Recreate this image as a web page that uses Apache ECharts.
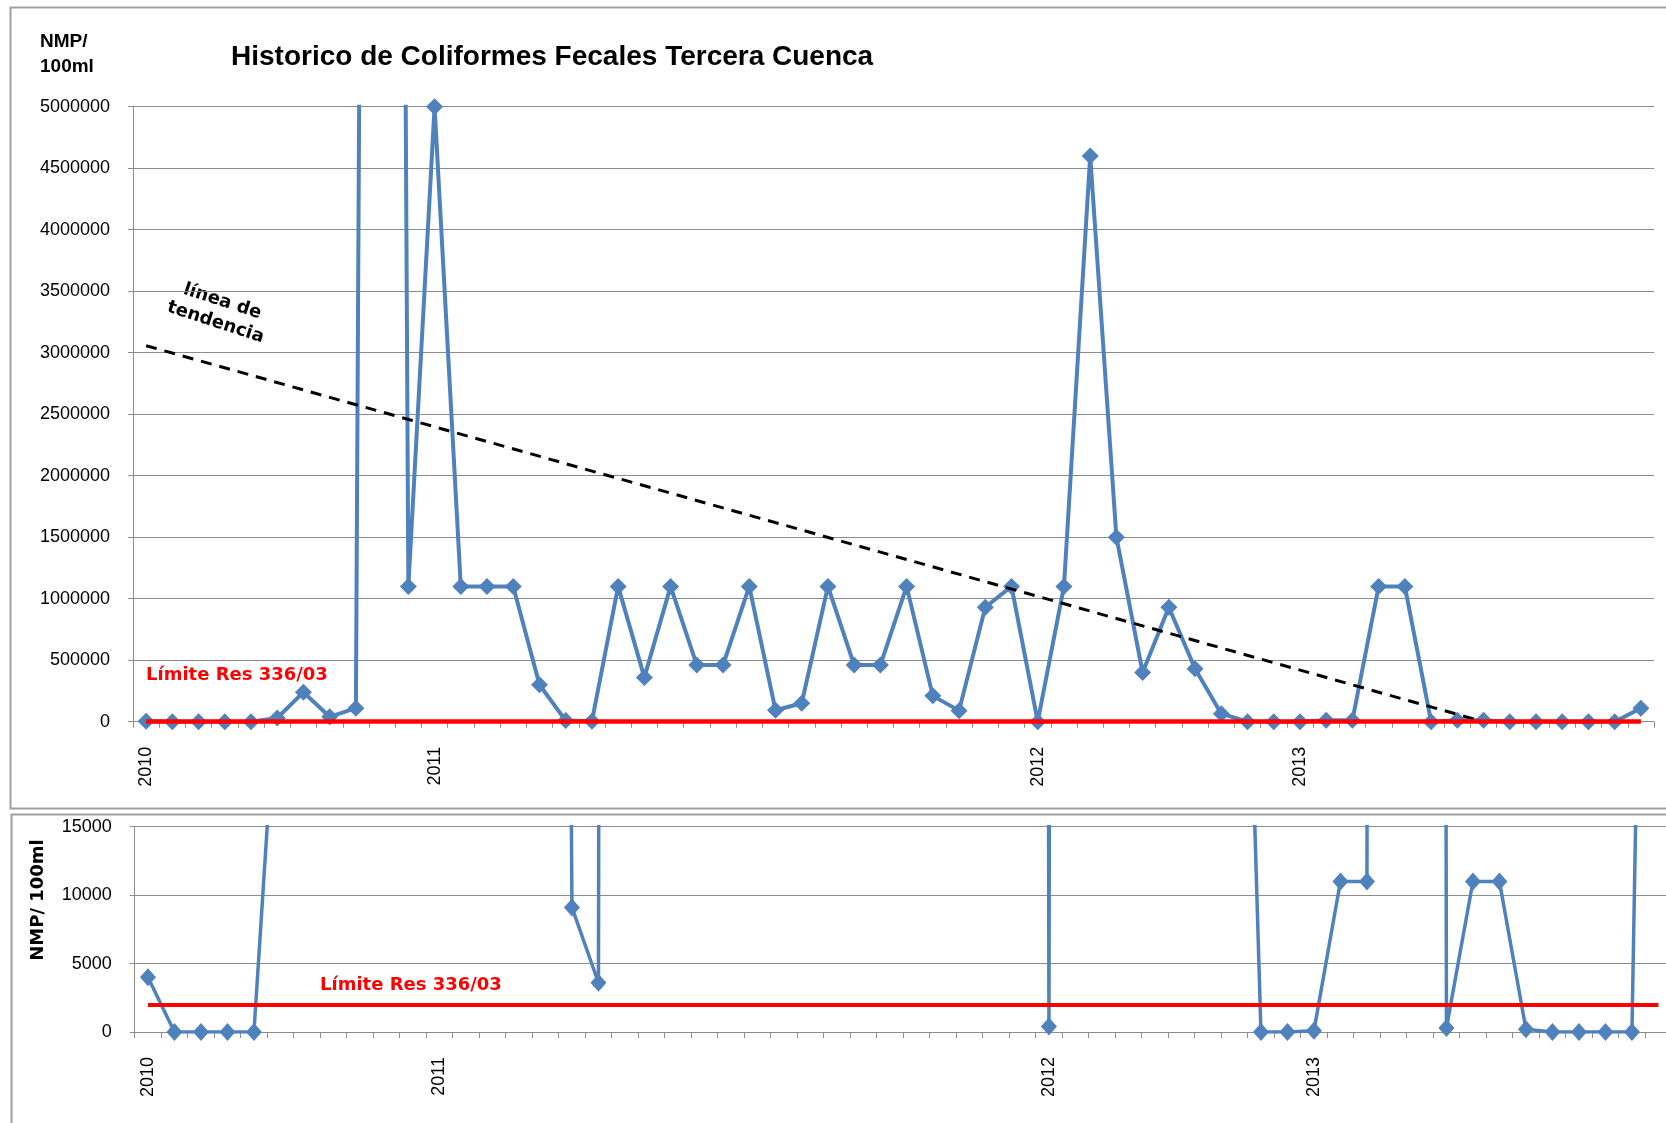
<!DOCTYPE html>
<html>
<head>
<meta charset="utf-8">
<script src="https://cdn.jsdelivr.net/npm/echarts@6/dist/echarts.min.js"></script>
<style>
  html, body { margin: 0; padding: 0; background: #fff; overflow: hidden; }
  #chart { width: 1720px; height: 1123px; }
</style>
</head>
<body>
<div id="chart"></div>
<script>
// sampling points, only the first of each year is labelled
var xLabels = [
    '2010', '', '', '', '', '', '', '', '', '',
    '', '2011', '', '', '', '', '', '', '', '',
    '', '', '', '', '', '', '', '', '', '',
    '', '', '', '', '2012', '', '', '', '', '',
    '', '', '', '', '2013', '', '', '', '', '',
    '', '', '', '', '', '', '', ''
];

// coliformes fecales, NMP/100ml
var nmp = [
    4000, 0, 0, 0, 0, 30000, 240000, 40000, 110000, 40000000,
    1100000, 5000000, 1100000, 1100000, 1100000, 300000, 9100, 3600, 1100000, 360000,
    1100000, 460000, 460000, 1100000, 93000, 150000, 1100000, 460000, 460000, 1100000,
    210000, 90000, 930000, 1100000, 400, 1100000, 4600000, 1500000, 400000, 930000,
    430000, 65000, 0, 0, 100, 11000, 11000, 1100000, 1100000, 300,
    11000, 11000, 200, 0, 0, 0, 0, 110000
];

// linea de tendencia: [index, value] endpoints
var trend = [[0, 3057000], [50.5, 0]];

var limitValue = 2000;        // Res 336/03
var topTicks = [0, 5000000, 500000];
var bottomTicks = [0, 15000, 5000];

(function () {
    var el = document.getElementById('chart');
    var chart = echarts.init(el, null, { renderer: 'canvas' });

    var blue = '#4F81BD';
    var gray = '#8c8c8c';
    var lastIdx = nmp.length - 1;

    function xAxis(gridIndex) {
        return {
            type: 'category',
            gridIndex: gridIndex,
            data: xLabels,
            boundaryGap: true,
            axisLine: { lineStyle: { color: gray, width: 1 } },
            axisTick: { show: true, interval: 0, length: 6, lineStyle: { color: gray } },
            axisLabel: {
                interval: 0, rotate: 90, margin: 25,
                color: '#000', fontSize: 18, fontFamily: 'Liberation Sans'
            },
            splitLine: { show: false }
        };
    }

    function yAxis(gridIndex, ticks) {
        return {
            type: 'value',
            gridIndex: gridIndex,
            min: ticks[0], max: ticks[1], interval: ticks[2],
            axisLine: { show: true, lineStyle: { color: gray, width: 1 } },
            axisTick: { show: true, length: 5, lineStyle: { color: gray } },
            axisLabel: {
                margin: 23, color: '#000', fontSize: 18, fontFamily: 'Liberation Sans',
                formatter: function (v) { return String(v); }
            },
            splitLine: { lineStyle: { color: gray, width: 1.2 } }
        };
    }

    function limitLine(xi, yi, w) {
        return {
            type: 'line',
            xAxisIndex: xi, yAxisIndex: yi,
            data: [],
            z: 6,
            markLine: {
                silent: true,
                symbol: ['none', 'none'],
                label: { show: false },
                lineStyle: { color: '#ff0000', width: w, type: 'solid' },
                data: [[{ coord: [0, limitValue] }, { coord: [lastIdx, limitValue] }]]
            }
        };
    }

    var redFont = 'bold 18px "DejaVu Sans"';

    chart.setOption({
        backgroundColor: '#fff',
        animation: false,
        grid: [
            { left: 133, top: 106.7, width: 1521, height: 615 },
            { left: 134.7, top: 826.7, width: 1537, height: 205.3 }
        ],
        xAxis: [xAxis(0), xAxis(1)],
        yAxis: [yAxis(0, topTicks), yAxis(1, bottomTicks)],
        graphic: [
            { type: 'rect', shape: { x: 10.5, y: 7.5, width: 1700, height: 801 },
              style: { fill: 'none', stroke: '#a0a0a0', lineWidth: 2 }, silent: true },
            { type: 'rect', shape: { x: 11.5, y: 814.5, width: 1700, height: 330 },
              style: { fill: 'none', stroke: '#a0a0a0', lineWidth: 2 }, silent: true },
            { type: 'text', x: 231, y: 57,
              style: { text: 'Historico de Coliformes Fecales Tercera Cuenca',
                       font: 'bold 28px "Liberation Sans"', fill: '#000', verticalAlign: 'middle' } },
            { type: 'text', x: 40, y: 30,
              style: { text: 'NMP/\n100ml', font: 'bold 19px "Liberation Sans"', fill: '#000',
                       lineHeight: 24.5, verticalAlign: 'top' } },
            { type: 'text', x: 219, y: 312, rotation: -18 * Math.PI / 180,
              style: { text: 'línea de\ntendencia', font: 'bold 18px "DejaVu Sans"', fill: '#000',
                       align: 'center', verticalAlign: 'middle', lineHeight: 22 } },
            { type: 'text', x: 146, y: 675,
              style: { text: 'Límite Res 336/03', font: redFont, fill: '#ff0000', verticalAlign: 'middle' } },
            { type: 'text', x: 320, y: 985,
              style: { text: 'Límite Res 336/03', font: redFont, fill: '#ff0000', verticalAlign: 'middle' } },
            { type: 'text', x: 38, y: 900, rotation: Math.PI / 2,
              style: { text: 'NMP/ 100ml', font: 'bold 18px "DejaVu Sans"', fill: '#000',
                       align: 'center', verticalAlign: 'middle' } }
        ],
        series: [
            {
                type: 'line',
                xAxisIndex: 0, yAxisIndex: 0,
                data: nmp,
                symbol: 'diamond', symbolSize: [17, 17],
                lineStyle: { color: blue, width: 4 },
                itemStyle: { color: blue },
                clip: true, z: 3
            },
            {
                type: 'line',
                xAxisIndex: 0, yAxisIndex: 0,
                data: trend,
                symbol: 'none',
                lineStyle: { color: '#000', width: 3, type: [11, 8] },
                clip: true, z: 4
            },
            limitLine(0, 0, 4.5),
            {
                type: 'line',
                xAxisIndex: 1, yAxisIndex: 1,
                data: nmp,
                symbol: 'diamond', symbolSize: [16, 18],
                lineStyle: { color: blue, width: 3.5 },
                itemStyle: { color: blue },
                clip: true, z: 3
            },
            limitLine(1, 1, 4)
        ]
    });

    window.addEventListener('resize', function () { chart.resize(); });
})();
</script>
</body>
</html>
